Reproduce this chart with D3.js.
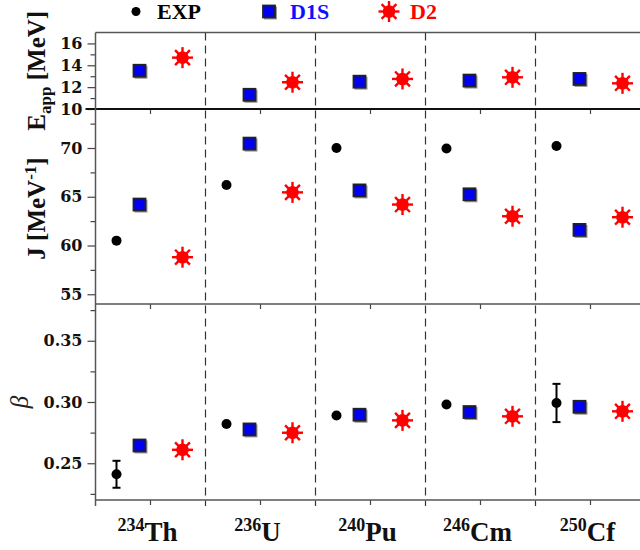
<!DOCTYPE html>
<html>
<head>
<meta charset="utf-8">
<script src="https://cdn.jsdelivr.net/npm/d3@7"></script>
<style>
  html, body { margin: 0; padding: 0; background: #fff; }
  svg { display: block; }
</style>
</head>
<body>
<svg id="chart" width="640" height="550"></svg>
<script>
// Nuclei along the x axis
const massNumbers = ["234", "236", "240", "246", "250"];
const symbols = ["Th", "U", "Pu", "Cm", "Cf"];
const nuclei = massNumbers.map((m, i) => m + symbols[i]);

// Apparent fission barrier E_app [MeV]
const eappD1S = [13.5, 11.3, 12.5, 12.6, 12.75];
const eappD2 = [14.7, 12.45, 12.75, 12.9, 12.35];

// Moment of inertia J [MeV^-1]
const jExp = [60.5, 66.2, 70.0, 69.95, 70.2];
const jD1S = [64.2, 70.45, 65.65, 65.25, 61.6];
const jD2 = [58.8, 65.45, 64.2, 63.0, 62.9];

// Deformation beta
const betaExp = [0.241, 0.282, 0.289, 0.298, 0.2992];
const betaExpErr = [0.011, 0, 0, 0, 0.0156];
const betaD1S = [0.2645, 0.2776, 0.2896, 0.2918, 0.2961];
const betaD2 = [0.261, 0.2749, 0.285, 0.2883, 0.2924];

// Axis ticks
const eappTicks = [10, 12, 14, 16];
const eappMinor = [11, 13, 15];
const jTicks = [55, 60, 65, 70];
const jMinor = [57.5, 62.5, 67.5, 72.5];
const betaTicks = [0.25, 0.30, 0.35];
const betaMinor = [0.225, 0.275, 0.325, 0.375];

const svg = d3.select("#chart");
const plotLeft = 95.5, plotRight = 645.5;
const plotTop = 32.5, sep1 = 109, sep2 = 304, plotBottom = 500;

const x = d3.scaleBand().domain(nuclei).range([plotLeft, plotRight]).padding(0);
const center = n => x(n) + x.bandwidth() / 2;
const offset = { EXP: -34, D1S: -11, D2: 32 };

const yE = d3.scaleLinear().domain([10, 17]).range([sep1, plotTop]);
const yJ = d3.scaleLinear().domain([54, 74]).range([sep2, sep1]);
const yB = d3.scaleLinear().domain([0.22, 0.38]).range([plotBottom, sep2]);

const serif = "'Liberation Serif', 'Times New Roman', serif";
const tickFont = "'DejaVu Serif', serif";

// Dashed separators between nuclei
const bounds = nuclei.slice(1).map(n => x(n));
svg.append("g").selectAll("line").data(bounds).join("line")
  .attr("x1", d => d).attr("x2", d => d)
  .attr("y1", plotTop).attr("y2", plotBottom + 6)
  .attr("stroke", "#333").attr("stroke-width", 1.2)
  .attr("stroke-dasharray", "8,5");

// Y axes with major labelled ticks and short minor ticks
function yAxis(scale, ticks, minor, fmt) {
  const g = svg.append("g").attr("transform", `translate(${plotLeft},0)`);
  g.call(d3.axisLeft(scale).tickValues(ticks).tickSize(8).tickPadding(5).tickFormat(fmt));
  g.select(".domain").remove();
  g.selectAll(".tick line").attr("stroke", "#444").attr("stroke-width", 1.2);
  g.selectAll(".tick text")
    .attr("font-family", tickFont).attr("font-weight", "bold")
    .attr("font-size", 16).attr("fill", "#111");
  const m = svg.append("g").attr("transform", `translate(${plotLeft},0)`);
  m.call(d3.axisLeft(scale).tickValues(minor).tickSize(5).tickFormat(""));
  m.select(".domain").remove();
  m.selectAll(".tick line").attr("stroke", "#444").attr("stroke-width", 1.2);
}
yAxis(yE, eappTicks, eappMinor, d3.format("d"));
yAxis(yJ, jTicks, jMinor, d3.format("d"));
yAxis(yB, betaTicks, betaMinor, d3.format(".2f"));

// Bottom ticks of each panel at nucleus centres
[sep1, sep2, plotBottom].forEach(yy => {
  const g = svg.append("g").attr("transform", `translate(0,${yy})`);
  g.call(d3.axisBottom(x).tickSize(5).tickFormat(""));
  g.select(".domain").remove();
  g.selectAll(".tick line").attr("stroke", "#444").attr("stroke-width", 1.2);
});

// Panel frame lines
const frame = svg.append("g").attr("fill", "none");
frame.append("line").attr("x1", plotLeft).attr("x2", 640).attr("y1", plotTop).attr("y2", plotTop)
  .attr("stroke", "#555").attr("stroke-width", 1.5);
frame.append("line").attr("x1", plotLeft - 10).attr("x2", 640).attr("y1", sep1).attr("y2", sep1)
  .attr("stroke", "#111").attr("stroke-width", 1.8);
frame.append("line").attr("x1", plotLeft).attr("x2", 640).attr("y1", sep2).attr("y2", sep2)
  .attr("stroke", "#555").attr("stroke-width", 1.5);
frame.append("line").attr("x1", plotLeft).attr("x2", 640).attr("y1", plotBottom).attr("y2", plotBottom)
  .attr("stroke", "#555").attr("stroke-width", 1.5);
frame.append("line").attr("x1", plotLeft).attr("x2", plotLeft).attr("y1", plotTop).attr("y2", plotBottom + 6)
  .attr("stroke", "#555").attr("stroke-width", 1.5);

// Marker drawers
function dot(g, cx, cy, r) {
  g.append("circle").attr("cx", cx).attr("cy", cy).attr("r", r).attr("fill", "#000");
}
function square(g, cx, cy, s) {
  g.append("rect").attr("x", cx - s / 2 + 1).attr("y", cy - s / 2 + 1)
    .attr("width", s + 1).attr("height", s + 1).attr("fill", "#999");
  g.append("rect").attr("x", cx - s / 2).attr("y", cy - s / 2)
    .attr("width", s).attr("height", s)
    .attr("fill", "#0000f5").attr("stroke", "#222").attr("stroke-width", 1.8);
}
function star(g, cx, cy, r) {
  const s = g.append("g").attr("transform", `translate(${cx},${cy})`);
  s.append("circle").attr("r", r * 0.6).attr("fill", "#ff0000");
  d3.range(8).forEach(k => {
    const a = k * Math.PI / 4;
    s.append("line").attr("x1", 0).attr("y1", 0)
      .attr("x2", r * Math.cos(a)).attr("y2", r * Math.sin(a))
      .attr("stroke", "#ff0000").attr("stroke-width", 2.4);
  });
}

const marks = svg.append("g");

// Top panel: E_app
nuclei.forEach((n, i) => {
  square(marks, center(n) + offset.D1S, yE(eappD1S[i]), 12);
  star(marks, center(n) + offset.D2, yE(eappD2[i]), 10.5);
});

// Middle panel: J
nuclei.forEach((n, i) => {
  dot(marks, center(n) + offset.EXP, yJ(jExp[i]), 5);
  square(marks, center(n) + offset.D1S, yJ(jD1S[i]), 12);
  star(marks, center(n) + offset.D2, yJ(jD2[i]), 10.5);
});

// Bottom panel: beta with experimental error bars
nuclei.forEach((n, i) => {
  const cx = center(n) + offset.EXP;
  const err = betaExpErr[i];
  if (err > 0) {
    const y1 = yB(betaExp[i] + err), y2 = yB(betaExp[i] - err);
    marks.append("line").attr("x1", cx).attr("x2", cx).attr("y1", y1).attr("y2", y2)
      .attr("stroke", "#000").attr("stroke-width", 2);
    [y1, y2].forEach(yy => marks.append("line")
      .attr("x1", cx - 4).attr("x2", cx + 4).attr("y1", yy).attr("y2", yy)
      .attr("stroke", "#000").attr("stroke-width", 2));
  }
  dot(marks, cx, yB(betaExp[i]), 5);
  square(marks, center(n) + offset.D1S, yB(betaD1S[i]), 12);
  star(marks, center(n) + offset.D2, yB(betaD2[i]), 10.5);
});

// Nucleus labels with superscript mass numbers
const xl = svg.append("g");
nuclei.forEach((n, i) => {
  const t = xl.append("text")
    .attr("x", center(n) - 3).attr("y", 541)
    .attr("text-anchor", "middle")
    .attr("font-family", serif).attr("font-weight", "bold").attr("fill", "#111");
  t.append("tspan").attr("font-size", 18).attr("dy", -10).text(massNumbers[i]);
  t.append("tspan").attr("font-size", 27).attr("dy", 10).text(symbols[i]);
});

// Y-axis titles
const e = svg.append("text")
  .attr("transform", `translate(45,${(plotTop + sep1) / 2}) rotate(-90)`)
  .attr("text-anchor", "middle")
  .attr("font-family", serif).attr("font-weight", "bold").attr("font-size", 25).attr("fill", "#111");
e.append("tspan").text("E");
e.append("tspan").attr("font-size", 17).attr("dy", 6).text("app");
e.append("tspan").attr("dy", -6).text(" [MeV]");

const jt = svg.append("text")
  .attr("transform", `translate(45,${(sep1 + sep2) / 2 + 2}) rotate(-90)`)
  .attr("text-anchor", "middle")
  .attr("font-family", serif).attr("font-weight", "bold").attr("font-size", 25).attr("fill", "#111");
jt.append("tspan").text("J [MeV");
jt.append("tspan").attr("font-size", 17).attr("dy", -9).text("-1");
jt.append("tspan").attr("dy", 9).text("]");

svg.append("text")
  .attr("transform", `translate(28,${(sep2 + plotBottom) / 2}) rotate(-90)`)
  .attr("text-anchor", "middle")
  .attr("font-family", serif).attr("font-style", "italic").attr("font-size", 25).attr("fill", "#222")
  .text("β");

// Legend
const lg = svg.append("g").attr("font-family", serif).attr("font-weight", "bold").attr("font-size", 22);
dot(lg, 136, 11.5, 4.5);
lg.append("text").attr("x", 157).attr("y", 18.5).attr("fill", "#000").text("EXP");
square(lg, 269, 11.5, 12);
lg.append("text").attr("x", 290).attr("y", 18.5).attr("fill", "#1010ff").text("D1S");
star(lg, 389, 11.5, 10.5);
lg.append("text").attr("x", 410).attr("y", 18.5).attr("fill", "#ff0000").text("D2");
</script>
</body>
</html>
